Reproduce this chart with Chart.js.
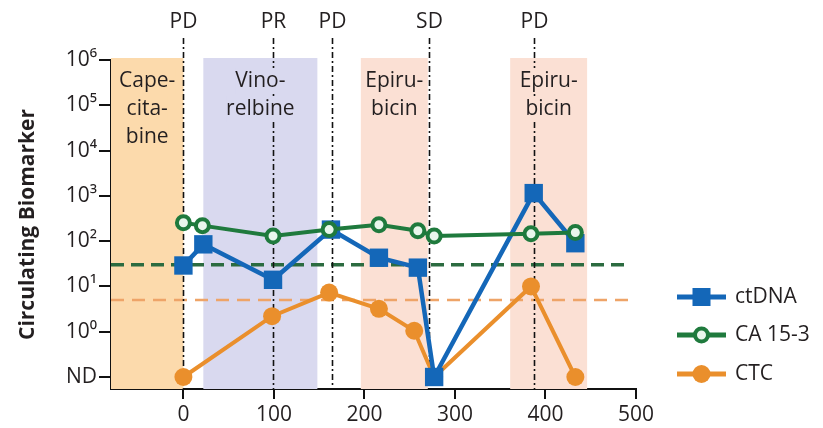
<!DOCTYPE html>
<html>
<head>
<meta charset="utf-8">
<script src="https://cdn.jsdelivr.net/npm/chart.js@4.4.0/dist/chart.umd.min.js"></script>
<style>
  html, body { margin: 0; padding: 0; background: #fff; }
  #wrap { width: 823px; height: 428px; position: relative; }
</style>
</head>
<body>
<div id="wrap"><canvas id="chart"></canvas></div>
<script>
// Days since start of therapy, biomarker values (0 = not detected)
const ctdnaDays = [0, 22, 99, 163, 216, 259, 277, 387, 433];
const ctdnaValues = [29, 85, 14, 180, 43, 26, 0, 1150, 90];
const ca153Days = [0, 21, 99, 161, 216, 259, 277, 384, 433];
const ca153Values = [255, 220, 130, 180, 230, 170, 130, 145, 155];
const ctcDays = [0, 98, 161, 216, 255, 277, 384, 433];
const ctcValues = [0, 2.2, 7.3, 3.2, 1.05, 0, 10, 0];

// Detection thresholds
const ca153Threshold = 30;
const ctcThreshold = 5;

// Response assessments
const responseDays = [0, 99, 164, 271, 387];
const responseLabels = ['PD', 'PR', 'PD', 'SD', 'PD'];

// Therapy periods
const therapyStart = [-80, 22, 196, 361];
const therapyEnd = [0, 148, 270, 446];
const therapyLabels = [['Cape-', 'cita-', 'bine'], ['Vino-', 'relbine'], ['Epiru-', 'bicin'], ['Epiru-', 'bicin']];
const therapyColors = ['#fcdaac', '#d9d9ef', '#fbe0d4', '#fbe0d4'];

// Axes
const xTicks = [0, 100, 200, 300, 400, 500];
const yTicks = [-1, 0, 1, 2, 3, 4, 5, 6];
const yTickLabels = ['ND', '10\u2070', '10\u00B9', '10\u00B2', '10\u00B3', '10\u2074', '10\u2075', '10\u2076'];

const FONT = '"Open Sans", "DejaVu Sans", sans-serif';
const TEXT = '#231f20';

// ND is plotted one decade below 10^0
function toLog(v) {
    return v > 0 ? Math.log10(v) : -1;
}

function toPoints(days, values) {
    return days.map((d, i) => ({ x: d, y: toLog(values[i]) }));
}

// Shaded therapy bands, response lines, thresholds
const backgroundPlugin = {
    id: 'background',
    beforeDatasetsDraw(chart) {
        const { ctx, chartArea, scales } = chart;
        const xs = scales.x, ys = scales.y;
        ctx.save();

        // bands
        therapyStart.forEach((s, i) => {
            const x1 = xs.getPixelForValue(s);
            const x2 = xs.getPixelForValue(therapyEnd[i]);
            ctx.fillStyle = therapyColors[i];
            ctx.fillRect(x1, chartArea.top - 2, x2 - x1, chartArea.bottom - chartArea.top + 2);
        });

        // threshold lines
        const thr = [
            { v: ca153Threshold, color: '#2b6b40', width: 3.5, dash: [13, 7] },
            { v: ctcThreshold, color: '#eea468', width: 2.5, dash: [13, 8] }
        ];
        thr.forEach(t => {
            const y = ys.getPixelForValue(toLog(t.v));
            ctx.strokeStyle = t.color;
            ctx.lineWidth = t.width;
            ctx.setLineDash(t.dash);
            ctx.beginPath();
            ctx.moveTo(chartArea.left, y);
            ctx.lineTo(xs.getPixelForValue(493), y);
            ctx.stroke();
        });

        // response lines
        ctx.setLineDash([6, 3, 2, 3]);
        ctx.strokeStyle = '#111';
        ctx.lineWidth = 1.6;
        ctx.font = '21px ' + FONT;
        ctx.fillStyle = TEXT;
        ctx.textAlign = 'center';
        ctx.textBaseline = 'middle';
        responseDays.forEach((d, i) => {
            const x = Math.round(xs.getPixelForValue(d)) + 0.5;
            ctx.beginPath();
            ctx.moveTo(x, 38);
            ctx.lineTo(x, chartArea.bottom);
            ctx.stroke();
            ctx.fillText(responseLabels[i], x, 22);
        });
        ctx.setLineDash([]);

        // therapy labels with band-coloured backing
        therapyLabels.forEach((lines, i) => {
            const cx = (xs.getPixelForValue(therapyStart[i]) + xs.getPixelForValue(therapyEnd[i])) / 2;
            lines.forEach((txt, j) => {
                const y = chartArea.top + 21 + j * 28;
                const w = ctx.measureText(txt).width;
                ctx.fillStyle = therapyColors[i];
                ctx.fillRect(cx - w / 2, y - 13, w, 26);
                ctx.fillStyle = TEXT;
                ctx.fillText(txt, cx, y);
            });
        });
        ctx.restore();
    }
};

// Legend at right, drawn with line + marker samples
const legendPlugin = {
    id: 'sideLegend',
    afterDraw(chart) {
        const { ctx } = chart;
        const rows = [297, 335, 374];
        ctx.save();
        chart.data.datasets.forEach((ds, i) => {
            const y = rows[i];
            const x1 = 677, x2 = 726, cx = (x1 + x2) / 2;
            ctx.strokeStyle = ds.borderColor;
            ctx.lineWidth = 5;
            ctx.beginPath();
            ctx.moveTo(x1, y);
            ctx.lineTo(x2, y);
            ctx.stroke();
            ctx.fillStyle = ds.pointBackgroundColor;
            ctx.strokeStyle = ds.pointBorderColor;
            ctx.lineWidth = ds.pointBorderWidth;
            if (ds.pointStyle === 'rect') {
                ctx.fillRect(cx - 9, y - 9, 18, 18);
            } else {
                ctx.beginPath();
                ctx.arc(cx, y, ds.pointRadius, 0, Math.PI * 2);
                ctx.fill();
                if (ds.pointBorderWidth) ctx.stroke();
            }
            ctx.font = '21px ' + FONT;
            ctx.fillStyle = TEXT;
            ctx.textAlign = 'left';
            ctx.textBaseline = 'middle';
            ctx.fillText(ds.label, 735, y);
        });
        ctx.restore();
    }
};

const ctx = document.getElementById('chart');
new Chart(ctx, {
    type: 'line',
    data: {
        datasets: [
            {
                label: 'ctDNA',
                data: toPoints(ctdnaDays, ctdnaValues),
                borderColor: '#1467b8',
                borderWidth: 4.5,
                pointStyle: 'rect',
                pointRadius: 13,
                pointBackgroundColor: '#1467b8',
                pointBorderColor: '#1467b8',
                pointBorderWidth: 0,
                tension: 0,
                order: 1
            },
            {
                label: 'CA 15-3',
                data: toPoints(ca153Days, ca153Values),
                borderColor: '#1f7a3d',
                borderWidth: 4,
                pointStyle: 'circle',
                pointRadius: 6.5,
                pointBackgroundColor: '#e9f6ec',
                pointBorderColor: '#1f7a3d',
                pointBorderWidth: 4,
                tension: 0,
                order: 0
            },
            {
                label: 'CTC',
                data: toPoints(ctcDays, ctcValues),
                borderColor: '#ea8f2c',
                borderWidth: 4,
                pointStyle: 'circle',
                pointRadius: 9,
                pointBackgroundColor: '#ea8f2c',
                pointBorderColor: '#ea8f2c',
                pointBorderWidth: 0,
                tension: 0,
                order: 2
            }
        ]
    },
    options: {
        responsive: true,
        maintainAspectRatio: false,
        animation: false,
        layout: { padding: { top: 60, right: 187, bottom: 0, left: 0 } },
        plugins: {
            legend: { display: false },
            tooltip: { enabled: false }
        },
        scales: {
            x: {
                type: 'linear',
                min: -80,
                max: 500,
                afterFit: s => { s.height = 39; },
                afterBuildTicks: s => { s.ticks = xTicks.map(v => ({ value: v })); },
                grid: { drawOnChartArea: false, drawTicks: true, tickLength: 10, color: '#111', lineWidth: 2 },
                border: { display: true, color: '#111', width: 2 },
                ticks: { color: TEXT, padding: 3, font: { family: FONT, size: 21 } }
            },
            y: {
                type: 'linear',
                min: -1.265,
                max: 6,
                afterFit: s => { s.width = 111; },
                afterBuildTicks: s => { s.ticks = yTicks.map(v => ({ value: v })); },
                grid: { drawOnChartArea: false, drawTicks: true, tickLength: 12, color: '#111', lineWidth: 2 },
                border: { display: true, color: '#111', width: 2 },
                ticks: {
                    color: TEXT,
                    padding: 2,
                    font: { family: FONT, size: 21 },
                    callback: v => yTickLabels[yTicks.indexOf(v)]
                },
                title: {
                    display: true,
                    text: 'Circulating Biomarker',
                    color: TEXT,
                    padding: { top: 15, bottom: 0 },
                    font: { family: FONT, size: 21, weight: 'bold' }
                }
            }
        }
    },
    plugins: [backgroundPlugin, legendPlugin]
});
</script>
</body>
</html>
